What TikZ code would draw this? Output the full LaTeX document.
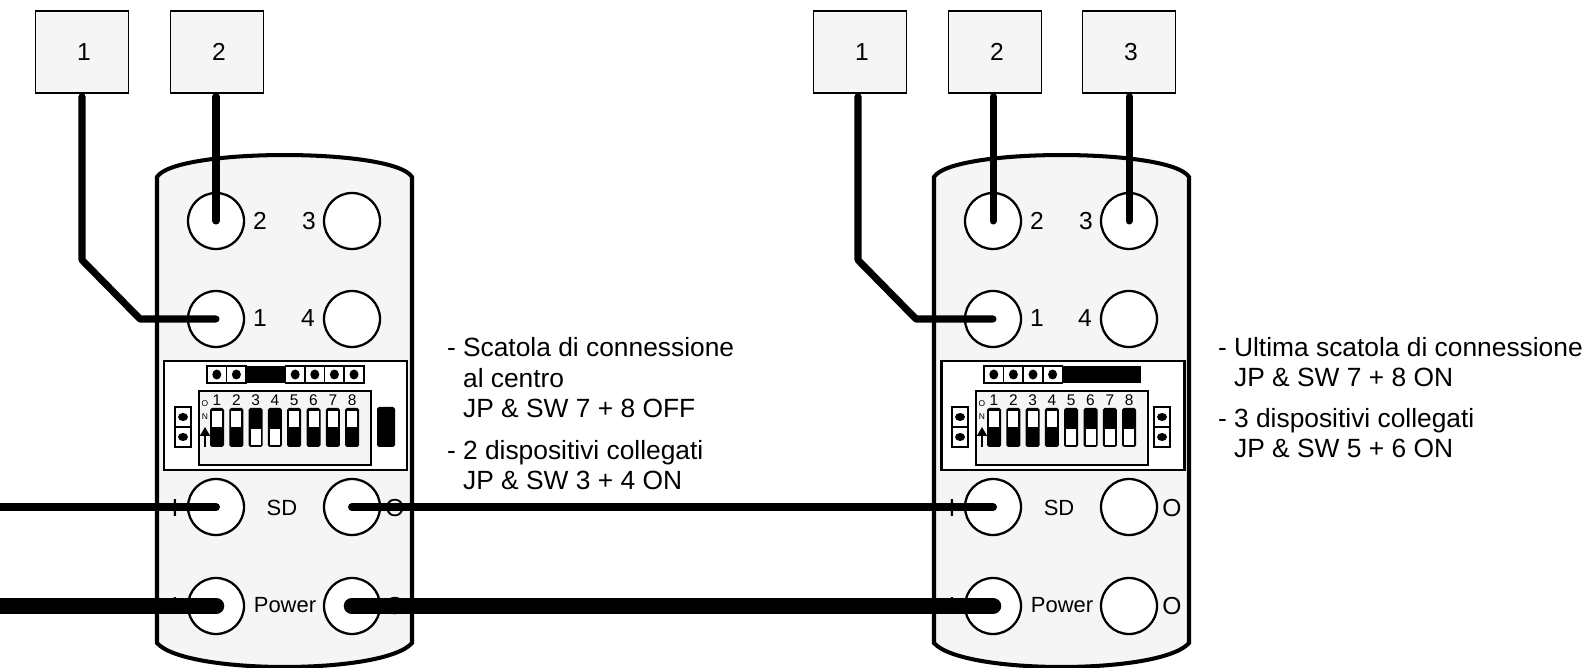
\documentclass[tikz,border=0pt]{standalone}
\usepackage{fontspec}
\setmainfont{Liberation Sans}
\usetikzlibrary{arrows.meta}
\definecolor{casegray}{HTML}{F5F5F5}
\newcommand{\dippanel}[1]{
\draw[line width=1.7pt,fill=white] (164,361) rectangle (407,470);
\draw[line width=.9pt,fill=casegray] (199,391) rectangle (371,465);
\draw[jumper] (175,407) rectangle (191,427);
\draw[jumper] (175,427) rectangle (191,447);
\fill (183,417) ellipse (5 and 4);
\fill (183,437) ellipse (5 and 4);
\foreach \n/\s in {#1} {
\pgfmathsetmacro{\cellx}{207+(\n-1)*19.6}
\pgfmathsetmacro{\swx}{210+(\n-1)*19.3}
\pgfmathsetmacro{\insy}{411+\s*18}
\ifnum\s=1
\fill (\cellx,366) rectangle ++(19.6,17);
\else
\draw[jumper] (\cellx,366) rectangle ++(19.6,17);
\fill (\cellx,366) ++(9.8,8.5) ellipse (4.5 and 5);
\fi
\fill[rounded corners=1pt] (\swx,408) rectangle ++(14,39);
\fill[white] (\swx,\insy) ++(2,0) rectangle ++(10,16);
\draw (\swx,400) ++(7,0) node[font=\fontsize{8.8}{9}\selectfont] {\n};
}
\draw (205,404) node[font=\fontsize{4.8}{5}\selectfont] {O};
\draw (205,417) node[font=\fontsize{4.8}{5}\selectfont] {N};
\draw[line width=.8pt,-{Triangle[length=5pt,width=5.6pt]}] (205,447) -- (205,427);
}
\begin{document}
\begin{tikzpicture}[x=.02cm,y=-.02cm,inner sep=0pt,outer sep=0pt,
devbox/.style={draw,rectangle,fill=casegray,line width=1.1pt,minimum width=1.86cm,minimum height=1.64cm,font=\fontsize{14}{16}\selectfont,execute at begin node=\hspace{2.3pt}},
port/.style={draw,circle,fill=white,line width=1.3pt,minimum size=1.12cm},
lab/.style={font=\fontsize{14}{16}\selectfont},
smalllab/.style={font=\fontsize{12.5}{15}\selectfont},
note/.style={anchor=west,align=left,font=\fontsize{15}{17.4}\selectfont},
casing/.style={draw,fill=casegray,line width=2.3pt},
jumper/.style={draw,fill=white,line width=.9pt},
wire/.style={line width=4pt,line cap=round,line join=round,shorten <=2pt},
sdwire/.style={line width=4.5pt,line cap=round},
powerwire/.style={line width=9.4pt,line cap=round}]
\useasboundingbox (0,0) rectangle (1588,668);
\draw (82,52) node[devbox] (boxAone) {1};
\draw (217,52) node[devbox] (boxAtwo) {2};
\draw (860,52) node[devbox] (boxBone) {1};
\draw (995,52) node[devbox] (boxBtwo) {2};
\draw (1129,52) node[devbox] (boxBthree) {3};
\foreach \body/\dx in {A/0,B/777} {
\begin{scope}[shift={(\dx,0)}]
\draw[casing] (157,177) .. controls (175,147.7) and (394,147.7) .. (412,177) -- (412,643) .. controls (384,675) and (185,675) .. (157,643) -- cycle;
\draw (216,221) node[port] (port\body two) {};
\draw (352,221) node[port] (port\body three) {};
\draw (216,319) node[port] (port\body one) {};
\draw (352,319) node[port] (port\body four) {};
\draw (216,507) node[port] (port\body sdin) {};
\draw (352,507) node[port] (port\body sdout) {};
\draw (216,606) node[port] (port\body pwin) {};
\draw (352,606) node[port] (port\body pwout) {};
\draw (260,221) node[lab] {2};
\draw (309,221) node[lab] {3};
\draw (260,318) node[lab] {1};
\draw (308,318) node[lab] {4};
\draw (282,508) node[smalllab] {SD};
\draw (285,605) node[smalllab] {Power};
\draw (175,508) node[lab] {I};
\draw (395,508) node[lab] {O};
\draw (175,606) node[lab] {I};
\draw (395,606) node[lab] {O};
\end{scope}
}
\dippanel{1/0,2/0,3/1,4/1,5/0,6/0,7/0,8/0}
\fill[rounded corners=1pt] (377,407) rectangle (395,447);
\begin{scope}[shift={(777,0)}]
\dippanel{1/0,2/0,3/0,4/0,5/1,6/1,7/1,8/1}
\draw[jumper] (377,407) rectangle (393,427);
\draw[jumper] (377,427) rectangle (393,447);
\fill (385,417) ellipse (5 and 4);
\fill (385,437) ellipse (5 and 4);
\end{scope}
\draw (447,378) node[note] (noteAtop) {- Scatola di connessione\\\phantom{- }al centro\\\phantom{- }JP \& SW 7 + 8 OFF};
\draw (447,465) node[note] (noteAbot) {- 2 dispositivi collegati\\\phantom{- }JP \& SW 3 + 4 ON};
\draw (1218,362) node[note] (noteBtop) {- Ultima scatola di connessione\\\phantom{- }JP \& SW 7 + 8 ON};
\draw (1218,433) node[note] (noteBbot) {- 3 dispositivi collegati\\\phantom{- }JP \& SW 5 + 6 ON};
\coordinate (sdstart) at (-10,507);
\coordinate (pwstart) at (-10,606);
\coordinate (kinkAup) at (82,260);
\coordinate (kinkAlow) at (140,319);
\coordinate (kinkBup) at (858,260);
\coordinate (kinkBlow) at (916,319);
\draw[wire] (kinkAup |- boxAone.south) -- (kinkAup) -- (kinkAlow) -- (portAone.center);
\draw[wire] (portAtwo |- boxAtwo.south) -- (portAtwo.center);
\draw[wire] (kinkBup |- boxBone.south) -- (kinkBup) -- (kinkBlow) -- (portBone.center);
\draw[wire] (portBtwo |- boxBtwo.south) -- (portBtwo.center);
\draw[wire] (portBthree |- boxBthree.south) -- (portBthree.center);
\draw[sdwire] (sdstart) -- (portAsdin.center);
\draw[sdwire] (portAsdout.center) -- (portBsdin.center);
\draw[powerwire] (pwstart) -- (portApwin.center);
\draw[powerwire] (portApwout.center) -- (portBpwin.center);
\end{tikzpicture}
\end{document}
